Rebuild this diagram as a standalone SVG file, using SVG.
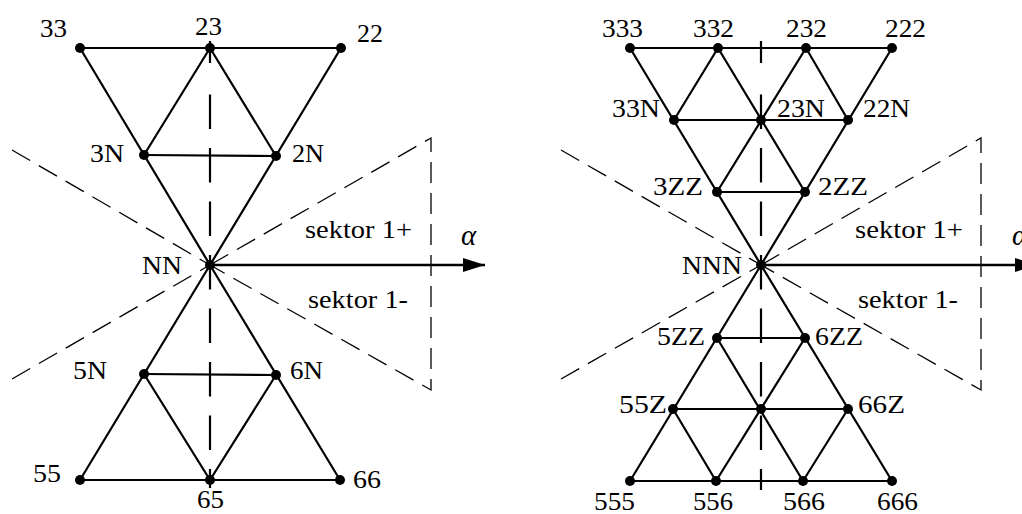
<svg xmlns="http://www.w3.org/2000/svg" width="1022" height="514" viewBox="0 0 1022 514" font-family="'Liberation Serif', 'Times New Roman', Times, serif">
  <style>
    .e { stroke: #000; stroke-width: 2.2; fill: none; stroke-linecap: round; }
    .ax { stroke: #000; stroke-width: 2.5; fill: none; }
    .sym { stroke: #000; stroke-width: 2.2; fill: none; }
    .sym-d { stroke-dasharray: 34.5 19; }
    .sec { stroke: #000; stroke-width: 1.3; fill: none; stroke-dasharray: 21 10; }
    .dot { fill: #000; }
    text { font-family: 'Liberation Serif', 'Times New Roman', Times, serif; }
    .t { font-size: 25px; fill: #000; }
    .a { font-size: 29px; font-style: italic; fill: #000; }
  </style>
  <defs>
    <marker id="arrow" markerUnits="userSpaceOnUse" markerWidth="24" markerHeight="16" refX="22" refY="7" orient="auto">
      <path d="M0,0 L22,7 L0,14 Z" fill="#000"/>
    </marker>
  </defs>
  <rect width="1022" height="514" fill="#fff"/>

  <!-- left figure: sector boundaries, symmetry axis and alpha axis -->
  <g id="left-guides">
    <line class="sec" x1="12" y1="150" x2="210" y2="265"/>
    <line class="sec" x1="12" y1="379" x2="210" y2="265"/>
    <polyline class="sec" points="210,265 431,138 431,390 210,265"/>
    <line class="sym" x1="210" y1="41" x2="210" y2="63"/>
    <line class="sym sym-d" x1="210" y1="94.5" x2="210" y2="488"/>
    <line class="ax" x1="210" y1="265" x2="485" y2="265" marker-end="url(#arrow)"/>
    <text class="t" x="305" y="238" textLength="107" lengthAdjust="spacingAndGlyphs">sektor 1+</text>
    <text class="t" x="308" y="308" textLength="100" lengthAdjust="spacingAndGlyphs">sektor 1-</text>
    <text class="a" x="461" y="245">α</text>
  </g>

  <!-- right figure: sector boundaries, symmetry axis and alpha axis -->
  <g id="right-guides">
    <line class="sec" x1="561" y1="150" x2="761" y2="265"/>
    <line class="sec" x1="561" y1="379" x2="761" y2="265"/>
    <polyline class="sec" points="761,265 981,138 981,390 761,265"/>
    <line class="sym" x1="761" y1="41" x2="761" y2="63"/>
    <line class="sym sym-d" x1="761" y1="94.5" x2="761" y2="490"/>
    <line class="ax" x1="761" y1="265" x2="1037" y2="265" marker-end="url(#arrow)"/>
    <text class="t" x="855" y="238" textLength="108" lengthAdjust="spacingAndGlyphs">sektor 1+</text>
    <text class="t" x="858" y="308" textLength="100" lengthAdjust="spacingAndGlyphs">sektor 1-</text>
    <text class="a" x="1012" y="245">α</text>
  </g>

  <!-- connectors -->
  <g id="connectors">
    <!-- left, upper triangle -->
    <line class="e" x1="80" y1="48" x2="341" y2="48"/>
    <line class="e" x1="80" y1="48" x2="210" y2="265"/>
    <line class="e" x1="341" y1="48" x2="210" y2="265"/>
    <line class="e" x1="210" y1="48" x2="144" y2="155"/>
    <line class="e" x1="210" y1="48" x2="276" y2="156"/>
    <line class="e" x1="144" y1="155" x2="276" y2="156"/>
    <!-- left, lower triangle -->
    <line class="e" x1="210" y1="265" x2="80" y2="480"/>
    <line class="e" x1="210" y1="265" x2="340" y2="480"/>
    <line class="e" x1="144" y1="374" x2="276" y2="375"/>
    <line class="e" x1="144" y1="374" x2="210" y2="480"/>
    <line class="e" x1="276" y1="375" x2="210" y2="480"/>
    <line class="e" x1="80" y1="480" x2="340" y2="480"/>

    <!-- right, upper triangle -->
    <line class="e" x1="630" y1="48" x2="892" y2="48"/>
    <line class="e" x1="630" y1="48" x2="761" y2="265"/>
    <line class="e" x1="892" y1="48" x2="761" y2="265"/>
    <line class="e" x1="718" y1="48" x2="674" y2="120"/>
    <line class="e" x1="718" y1="48" x2="805" y2="192"/>
    <line class="e" x1="806" y1="48" x2="717" y2="192"/>
    <line class="e" x1="806" y1="48" x2="848" y2="120"/>
    <line class="e" x1="674" y1="120" x2="848" y2="120"/>
    <line class="e" x1="717" y1="192" x2="805" y2="192"/>
    <!-- right, lower triangle -->
    <line class="e" x1="761" y1="265" x2="630" y2="481"/>
    <line class="e" x1="761" y1="265" x2="892" y2="481"/>
    <line class="e" x1="717" y1="338" x2="805" y2="338"/>
    <line class="e" x1="717" y1="338" x2="803" y2="481"/>
    <line class="e" x1="805" y1="338" x2="716" y2="481"/>
    <line class="e" x1="673" y1="409" x2="848" y2="409"/>
    <line class="e" x1="673" y1="409" x2="716" y2="481"/>
    <line class="e" x1="848" y1="409" x2="803" y2="481"/>
    <line class="e" x1="630" y1="481" x2="892" y2="481"/>
  </g>

  <!-- left figure nodes -->
  <g id="n-33"><circle class="dot" cx="80" cy="48" r="5"/><text class="t" x="40" y="37" textLength="27" lengthAdjust="spacingAndGlyphs">33</text></g>
  <g id="n-23"><circle class="dot" cx="210" cy="48" r="5"/><text class="t" x="195" y="35" textLength="27" lengthAdjust="spacingAndGlyphs">23</text></g>
  <g id="n-22"><circle class="dot" cx="341" cy="48" r="5"/><text class="t" x="357" y="42" textLength="26" lengthAdjust="spacingAndGlyphs">22</text></g>
  <g id="n-3N"><circle class="dot" cx="144" cy="155" r="5"/><text class="t" x="90" y="162" textLength="34" lengthAdjust="spacingAndGlyphs">3N</text></g>
  <g id="n-2N"><circle class="dot" cx="276" cy="156" r="5"/><text class="t" x="292" y="162" textLength="32" lengthAdjust="spacingAndGlyphs">2N</text></g>
  <g id="n-NN"><circle class="dot" cx="210" cy="265" r="5"/><text class="t" x="142" y="274" textLength="40" lengthAdjust="spacingAndGlyphs">NN</text></g>
  <g id="n-5N"><circle class="dot" cx="144" cy="374" r="5"/><text class="t" x="73" y="379" textLength="34" lengthAdjust="spacingAndGlyphs">5N</text></g>
  <g id="n-6N"><circle class="dot" cx="276" cy="375" r="5"/><text class="t" x="290" y="379" textLength="33" lengthAdjust="spacingAndGlyphs">6N</text></g>
  <g id="n-55"><circle class="dot" cx="80" cy="480" r="5"/><text class="t" x="33" y="482" textLength="28" lengthAdjust="spacingAndGlyphs">55</text></g>
  <g id="n-65"><circle class="dot" cx="210" cy="480" r="5"/><text class="t" x="197" y="508" textLength="27" lengthAdjust="spacingAndGlyphs">65</text></g>
  <g id="n-66"><circle class="dot" cx="340" cy="480" r="5"/><text class="t" x="353" y="488" textLength="28" lengthAdjust="spacingAndGlyphs">66</text></g>

  <!-- right figure nodes -->
  <g id="n-333"><circle class="dot" cx="630" cy="48" r="5"/><text class="t" x="602" y="37" textLength="41" lengthAdjust="spacingAndGlyphs">333</text></g>
  <g id="n-332"><circle class="dot" cx="718" cy="48" r="5"/><text class="t" x="693" y="37" textLength="41" lengthAdjust="spacingAndGlyphs">332</text></g>
  <g id="n-232"><circle class="dot" cx="806" cy="48" r="5"/><text class="t" x="786" y="37" textLength="41" lengthAdjust="spacingAndGlyphs">232</text></g>
  <g id="n-222"><circle class="dot" cx="892" cy="48" r="5"/><text class="t" x="885" y="37" textLength="41" lengthAdjust="spacingAndGlyphs">222</text></g>
  <g id="n-33N"><circle class="dot" cx="674" cy="120" r="5"/><text class="t" x="612" y="117" textLength="48" lengthAdjust="spacingAndGlyphs">33N</text></g>
  <g id="n-23N"><circle class="dot" cx="761" cy="120" r="5"/><text class="t" x="777" y="117" textLength="48" lengthAdjust="spacingAndGlyphs">23N</text></g>
  <g id="n-22N"><circle class="dot" cx="848" cy="120" r="5"/><text class="t" x="863" y="117" textLength="47" lengthAdjust="spacingAndGlyphs">22N</text></g>
  <g id="n-3ZZ"><circle class="dot" cx="717" cy="192" r="5"/><text class="t" x="653" y="195" textLength="50" lengthAdjust="spacingAndGlyphs">3ZZ</text></g>
  <g id="n-2ZZ"><circle class="dot" cx="805" cy="192" r="5"/><text class="t" x="818" y="195" textLength="50" lengthAdjust="spacingAndGlyphs">2ZZ</text></g>
  <g id="n-NNN"><circle class="dot" cx="761" cy="265" r="5"/><text class="t" x="682" y="274" textLength="60" lengthAdjust="spacingAndGlyphs">NNN</text></g>
  <g id="n-5ZZ"><circle class="dot" cx="717" cy="338" r="5"/><text class="t" x="657" y="345" textLength="48" lengthAdjust="spacingAndGlyphs">5ZZ</text></g>
  <g id="n-6ZZ"><circle class="dot" cx="805" cy="338" r="5"/><text class="t" x="815" y="345" textLength="48" lengthAdjust="spacingAndGlyphs">6ZZ</text></g>
  <g id="n-55Z"><circle class="dot" cx="673" cy="409" r="5"/><text class="t" x="619" y="413" textLength="48" lengthAdjust="spacingAndGlyphs">55Z</text></g>
  <g id="n-56Z"><circle class="dot" cx="761" cy="409" r="5"/></g>
  <g id="n-66Z"><circle class="dot" cx="848" cy="409" r="5"/><text class="t" x="858" y="413" textLength="47" lengthAdjust="spacingAndGlyphs">66Z</text></g>
  <g id="n-555"><circle class="dot" cx="630" cy="481" r="5"/><text class="t" x="594" y="510" textLength="41" lengthAdjust="spacingAndGlyphs">555</text></g>
  <g id="n-556"><circle class="dot" cx="716" cy="481" r="5"/><text class="t" x="693" y="510" textLength="40" lengthAdjust="spacingAndGlyphs">556</text></g>
  <g id="n-566"><circle class="dot" cx="803" cy="481" r="5"/><text class="t" x="783" y="510" textLength="42" lengthAdjust="spacingAndGlyphs">566</text></g>
  <g id="n-666"><circle class="dot" cx="892" cy="481" r="5"/><text class="t" x="877" y="510" textLength="41" lengthAdjust="spacingAndGlyphs">666</text></g>
</svg>
